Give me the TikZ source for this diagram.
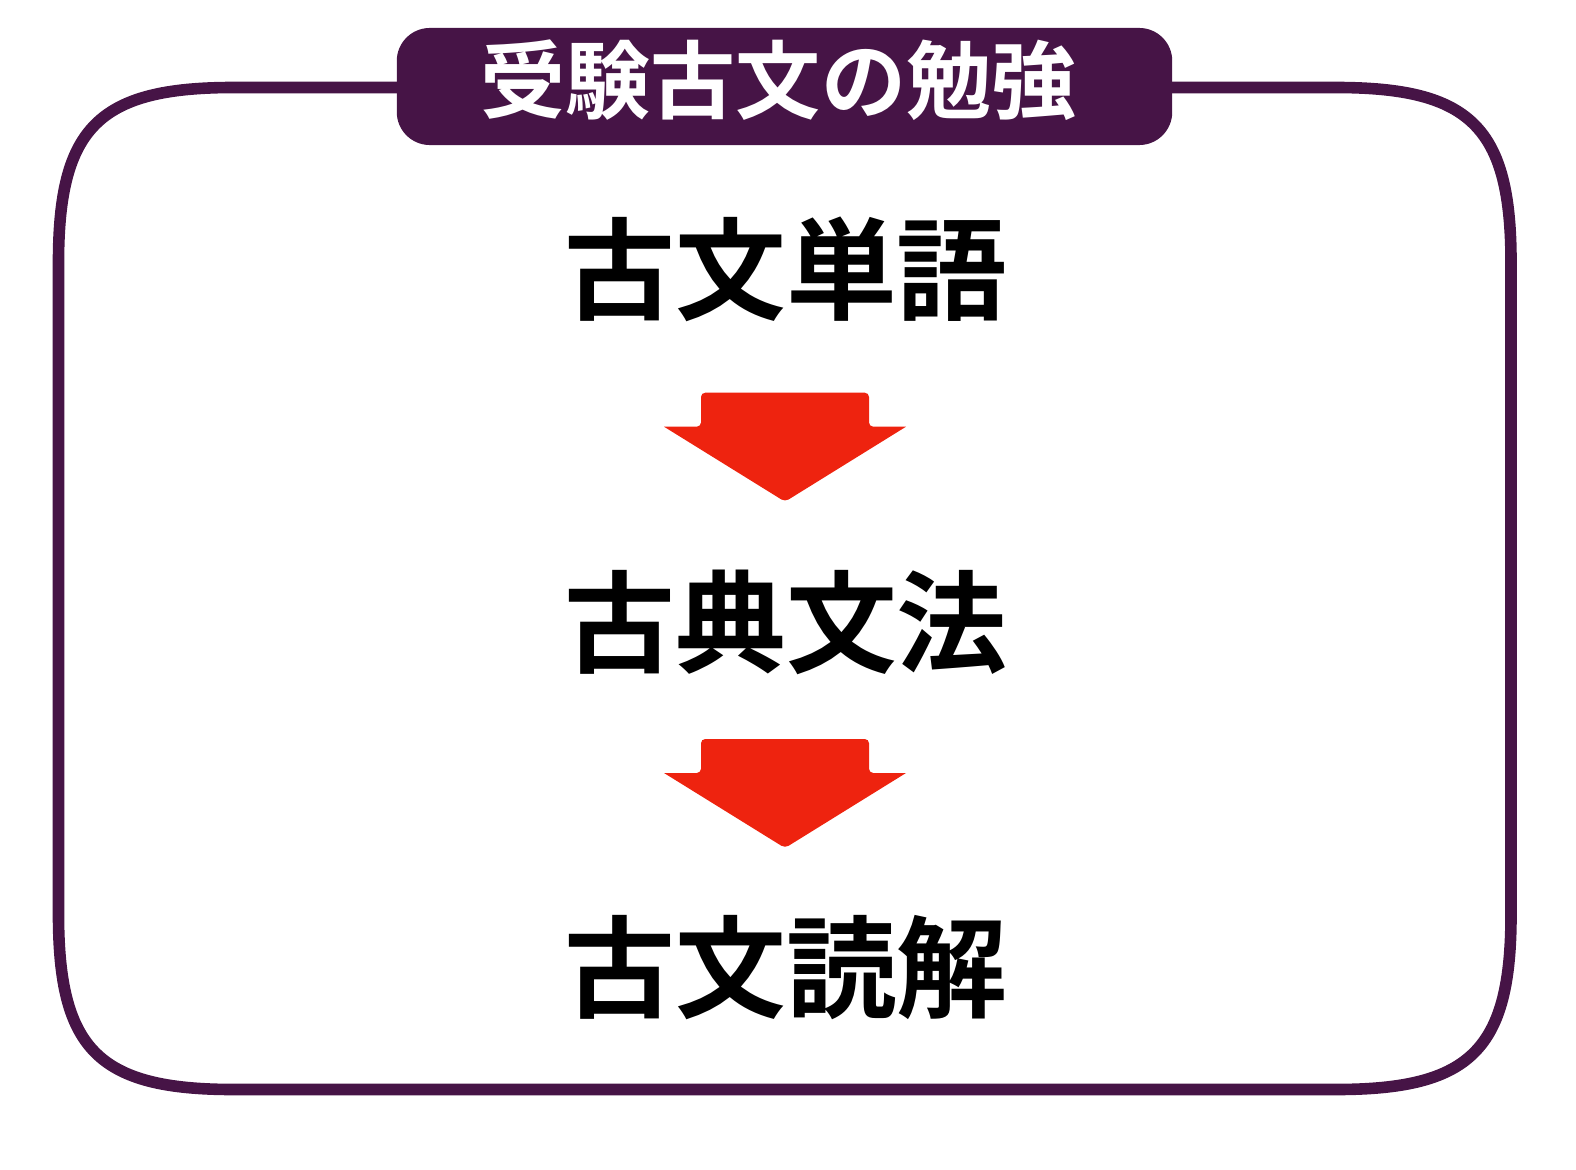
\documentclass[tikz,border=0pt]{standalone}
\usepackage{fontspec}
\newfontfamily\jpfont{Noto Sans CJK JP}[BoldFont={Noto Sans CJK JP Bold}]
\usepackage{tikz}
\definecolor{framepurple}{RGB}{70,20,70}
\definecolor{arrowred}{RGB}{238,35,15}
\tikzset{
  term/.style={font=\jpfont\bfseries\fontsize{31.5pt}{36pt}\selectfont,inner sep=0pt},
  downarrow/.pic={
    \fill[arrowred] (-121,34) [rounded corners=1.2pt] -- (-84,34) -- (-84,0) -- (84,0) -- (84,34)
      [sharp corners] -- (121,34) [rounded corners=1.2pt] -- (0,109) [sharp corners] -- cycle;
  }
}

\begin{document}
\begin{tikzpicture}[x=0.01cm,y=-0.01cm]
        \useasboundingbox (0,0) rectangle (1576,1170);
        % outer frame with soft corners
        \draw[framepurple,line width=3.3pt] (58.5,262.5) -- (58.5,914.5)
          .. controls (58.5,1049.5) and (98.5,1089.5) .. (233.5,1089.5) -- (1336,1089.5)
          .. controls (1471,1089.5) and (1511,1049.5) .. (1511,914.5) -- (1511,262.5)
          .. controls (1511,127.5) and (1471,87.5) .. (1336,87.5) -- (233.5,87.5)
          .. controls (98.5,87.5) and (58.5,127.5) .. (58.5,262.5) -- cycle;

        \node[fill=framepurple,rounded corners=0.33cm,minimum width=7.75cm,minimum height=1.17cm,inner sep=0pt] (titlebox) at (784.5,86.5) {};
        \node[text=white,font=\jpfont\bfseries\fontsize{24.2pt}{28pt}\selectfont,inner sep=0pt] (title) at (778.5,80) {受験古文の勉強};

        \node[term] (vocab) at (786,269) {古文単語};
        \node[term] (grammar) at (786,622) {古典文法};
        \node[term] (reading) at (786,968) {古文読解};

        \pic at (785,392.7) {downarrow};
        \pic at (785,739) {downarrow};
    \end{tikzpicture}
\end{document}
